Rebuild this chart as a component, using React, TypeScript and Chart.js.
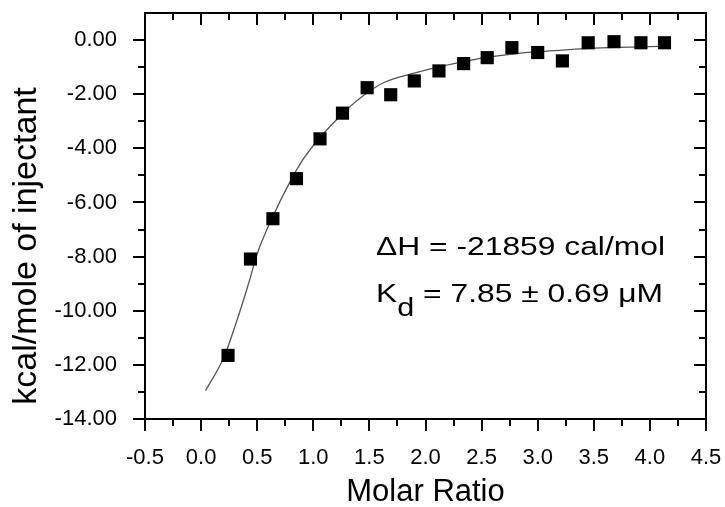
import React, { useEffect, useRef } from 'react';
import { Chart, registerables } from 'chart.js';

Chart.register(...registerables);

// Measured injections
const molarRatio = [0.24, 0.44, 0.64, 0.85, 1.06, 1.26, 1.48, 1.69, 1.90, 2.12, 2.34, 2.55, 2.77, 3.00, 3.22, 3.45, 3.68, 3.92, 4.13];
const heat = [-11.65, -8.09, -6.60, -5.12, -3.65, -2.70, -1.76, -2.02, -1.51, -1.14, -0.87, -0.65, -0.28, -0.46, -0.77, -0.10, -0.06, -0.10, -0.10];

// Fitted curve
const fitRatio = [0.04, 0.20, 0.32, 0.43, 0.50, 0.63, 0.81, 0.91, 1.06, 1.26, 1.48, 1.64, 1.90, 2.12, 2.34, 2.55, 2.77, 3.00, 3.22, 3.45, 3.68, 3.92, 4.15];
const fitHeat = [-12.95, -11.75, -10.35, -8.9, -7.9, -6.6, -5.1, -4.4, -3.6, -2.72, -1.95, -1.55, -1.22, -0.99, -0.80, -0.63, -0.52, -0.43, -0.37, -0.31, -0.27, -0.25, -0.22];

const xTitle = 'Molar Ratio';
const yTitle = 'kcal/mole of injectant';
const dHText = 'ΔH = -21859 cal/mol';
const kdMain = 'K';
const kdSub = 'd';
const kdRest = ' = 7.85 ± 0.69 μM';

const FONT = "'Liberation Sans', Arial, sans-serif";

const framePlugin = {
  id: 'frameTicks',
  afterDraw(chart: any) {
    const { ctx, chartArea: a, scales } = chart;
    const x = scales.x;
    const y = scales.y;
    ctx.save();
    ctx.strokeStyle = '#000';
    ctx.lineWidth = 2;
    ctx.strokeRect(a.left, a.top, a.right - a.left, a.bottom - a.top);
    ctx.beginPath();
    for (let i = 0; i <= 20; i++) {
      const v = -0.5 + i * 0.25;
      const px = Math.round(x.getPixelForValue(v));
      const len = i % 2 === 0 ? 12 : 7;
      ctx.moveTo(px, a.bottom);
      ctx.lineTo(px, a.bottom + len);
      ctx.moveTo(px, a.top);
      ctx.lineTo(px, a.top + len);
    }
    for (let v = -14; v <= 0; v++) {
      const py = Math.round(y.getPixelForValue(v));
      const len = v % 2 === 0 ? 12 : 7;
      ctx.moveTo(a.left, py);
      ctx.lineTo(a.left - len, py);
      ctx.moveTo(a.right, py);
      ctx.lineTo(a.right - len, py);
    }
    ctx.stroke();

    ctx.fillStyle = '#000';

    // y axis title
    ctx.font = `34px ${FONT}`;
    ctx.textAlign = 'center';
    ctx.textBaseline = 'middle';
    ctx.save();
    ctx.translate(27, 246);
    ctx.rotate(-Math.PI / 2);
    ctx.fillText(yTitle, 0, 0);
    ctx.restore();

    // x axis title
    ctx.font = `31px ${FONT}`;
    ctx.textAlign = 'center';
    ctx.textBaseline = 'alphabetic';
    ctx.fillText(xTitle, (a.left + a.right) / 2, 501);

    // annotation
    ctx.textAlign = 'left';
    ctx.textBaseline = 'alphabetic';
    const fs = 26;
    ctx.font = `${fs}px ${FONT}`;
    const target = 289;
    const w1 = ctx.measureText(dHText).width;
    const sx = target / w1;
    ctx.save();
    ctx.translate(376, 255);
    ctx.scale(sx, 1);
    ctx.fillText(dHText, 0, 0);
    ctx.restore();

    ctx.save();
    ctx.translate(376, 302);
    ctx.scale(sx, 1);
    ctx.fillText(kdMain, 0, 0);
    const kw = ctx.measureText(kdMain).width;
    ctx.font = `${Math.round(fs * 0.95)}px ${FONT}`;
    ctx.fillText(kdSub, kw, 14);
    const dw = ctx.measureText(kdSub).width;
    ctx.font = `${fs}px ${FONT}`;
    ctx.fillText(kdRest, kw + dw, 0);
    ctx.restore();
    ctx.restore();
  },
};

export default function App() {
  const ref = useRef<HTMLCanvasElement | null>(null);
  useEffect(() => {
    if (!ref.current) return;
    const chart = new Chart(ref.current, {
      type: 'scatter',
      data: {
        datasets: [
          {
            label: 'data',
            data: molarRatio.map((r, i) => ({ x: r, y: heat[i] })),
            pointStyle: 'rect',
            pointRadius: 9.3,
            pointHoverRadius: 9.3,
            backgroundColor: '#000',
            borderColor: '#000',
            borderWidth: 0,
            showLine: false,
          },
          {
            label: 'fit',
            data: fitRatio.map((r, i) => ({ x: r, y: fitHeat[i] })),
            showLine: true,
            pointRadius: 0,
            borderColor: '#555',
            borderWidth: 1.3,
            cubicInterpolationMode: 'monotone',
            fill: false,
          },
        ],
      },
      options: {
        animation: false,
        responsive: false,
        layout: { padding: { left: 0, top: 13, right: 19, bottom: 0 } },
        plugins: { legend: { display: false }, tooltip: { enabled: false } },
        scales: {
          x: {
            type: 'linear',
            min: -0.5,
            max: 4.5,
            grid: { display: false },
            border: { display: false },
            ticks: {
              stepSize: 0.5,
              padding: 18,
              color: '#000',
              font: { family: FONT, size: 22 },
              maxRotation: 0,
              autoSkip: false,
              callback: (v: any) => Number(v).toFixed(1),
            },
            afterFit: (s: any) => {
              s.height = 88;
              s.paddingLeft = 0;
              s.paddingRight = 0;
            },
          },
          y: {
            type: 'linear',
            min: -14,
            max: 1,
            grid: { display: false },
            border: { display: false },
            ticks: {
              stepSize: 2,
              includeBounds: false,
              padding: 20,
              color: '#000',
              font: { family: FONT, size: 22 },
              autoSkip: false,
              callback: (v: any) => Number(v).toFixed(2),
            },
            afterFit: (s: any) => {
              s.width = 145;
              s.paddingTop = 0;
              s.paddingBottom = 0;
            },
          },
        },
      },
      plugins: [framePlugin],
    } as any);
    return () => chart.destroy();
  }, []);
  return (
    <div style={{ position: 'fixed', left: 0, top: 0, width: 725, height: 507, background: '#fff' }}>
      <canvas ref={ref} width={725} height={507} />
    </div>
  );
}
